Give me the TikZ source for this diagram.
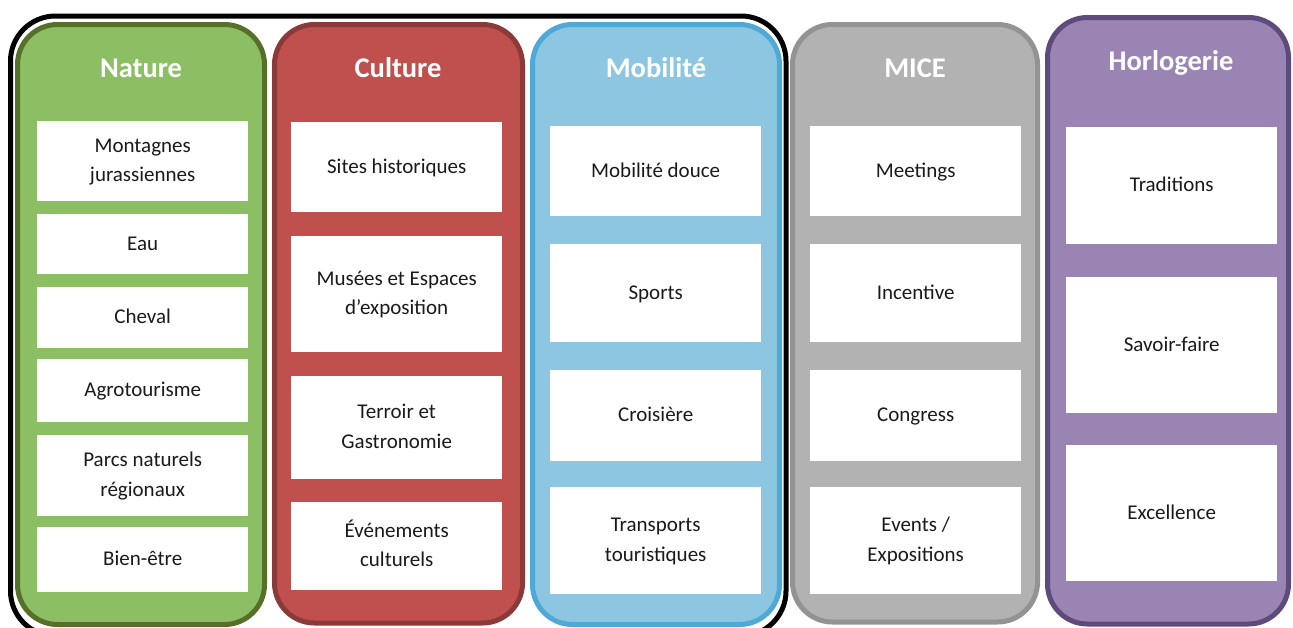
\documentclass[tikz,border=0pt]{standalone}
\usepackage{fontspec}
\setmainfont{Carlito}
\definecolor{natureFill}{HTML}{8CBF63}
\definecolor{natureEdge}{HTML}{56702A}
\definecolor{cultureFill}{HTML}{C0504D}
\definecolor{cultureEdge}{HTML}{8B3A3A}
\definecolor{mobilFill}{HTML}{8DC6E1}
\definecolor{mobilEdge}{HTML}{4FA9D6}
\definecolor{miceFill}{HTML}{B2B2B2}
\definecolor{miceEdge}{HTML}{939393}
\definecolor{horloFill}{HTML}{9A84B4}
\definecolor{horloEdge}{HTML}{5E4A7B}
\definecolor{itemText}{HTML}{1A1A1A}
% centred lines, each with a full strut, so text sits mid-box
\newcommand\itemlines[1]{\begin{tabular}{@{}c@{}}#1\end{tabular}}
\begin{document}
\begin{tikzpicture}[x=1pt,y=-1pt,
  pillar/.style={line width=5pt, rounded corners=40pt},
  heading/.style={font=\bfseries\fontsize{28.5}{34}\selectfont, text=white,
    inner sep=0pt, text height=18.4pt, text depth=0pt},
  item/.style={fill=white, inner sep=0pt, anchor=north west,
    minimum width=211pt, text=itemText,
    font=\fontsize{21}{29.5}\selectfont}]
\useasboundingbox (0,0) rectangle (1293,627);
\clip (0,0) rectangle (1293,627);

% outline grouping the first three pillars
\draw[line width=5pt, rounded corners=45pt] (10.5,16) rectangle (786,636);

% pillars
\draw[pillar, draw=natureEdge, fill=natureFill] (17.5,24.5) rectangle (264.5,624.5);
\draw[pillar, draw=cultureEdge, fill=cultureFill] (274.5,24.5) rectangle (522.5,623);
\draw[pillar, draw=mobilEdge, fill=mobilFill] (532.5,24.5) rectangle (779.5,624.5);
\draw[pillar, draw=miceEdge, fill=miceFill] (792.5,24.5) rectangle (1037.5,622);
\draw[pillar, draw=horloEdge, fill=horloFill] (1047.5,17.5) rectangle (1288.5,624);

% headings
\node[heading] (hNature) at (141,68) {Nature};
\node[heading] (hCulture) at (398,68) {Culture};
\node[heading] (hMobil) at (656,68) {Mobilité};
\node[heading] (hMice) at (915,68) {MICE};
\node[heading] (hHorlo) at (1171,61) {Horlogerie};

% Nature
\node[item, minimum height=80pt] (n1) at (37,121) {\itemlines{Montagnes\\jurassiennes}};
\node[item, minimum height=60pt] (n2) at (37,214) {\itemlines{Eau}};
\node[item, minimum height=61pt] (n3) at (37,287) {\itemlines{Cheval}};
\node[item, minimum height=63pt] (n4) at (37,359) {\itemlines{Agrotourisme}};
\node[item, minimum height=81pt] (n5) at (37,435) {\itemlines{Parcs naturels\\régionaux}};
\node[item, minimum height=65pt] (n6) at (37,527) {\itemlines{Bien-être}};

% Culture
\node[item, minimum height=90pt] (c1) at (291,122) {\itemlines{Sites historiques}};
\node[item, minimum height=116pt] (c2) at (291,236) {\itemlines{Musées et Espaces\\d’exposition}};
\node[item, minimum height=103pt] (c3) at (291,376) {\itemlines{Terroir et\\Gastronomie}};
\node[item, minimum height=88pt] (c4) at (291,502) {\itemlines{Événements\\culturels}};

% Mobilité
\node[item, minimum height=90pt] (m1) at (550,126) {\itemlines{Mobilité douce}};
\node[item, minimum height=98pt] (m2) at (550,244) {\itemlines{Sports}};
\node[item, minimum height=91pt] (m3) at (550,370) {\itemlines{Croisière}};
\node[item, minimum height=107pt] (m4) at (550,487) {\itemlines{Transports\\touristiques}};

% MICE
\node[item, minimum height=90pt] (e1) at (810,126) {\itemlines{Meetings}};
\node[item, minimum height=98pt] (e2) at (810,244) {\itemlines{Incentive}};
\node[item, minimum height=91pt] (e3) at (810,370) {\itemlines{Congress}};
\node[item, minimum height=107pt] (e4) at (810,487) {\itemlines{Events /\\Expositions}};

% Horlogerie
\node[item, minimum height=117pt] (h1) at (1066,127) {\itemlines{Traditions}};
\node[item, minimum height=136pt] (h2) at (1066,277) {\itemlines{Savoir-faire}};
\node[item, minimum height=136pt] (h3) at (1066,445) {\itemlines{Excellence}};
\end{tikzpicture}
\end{document}
